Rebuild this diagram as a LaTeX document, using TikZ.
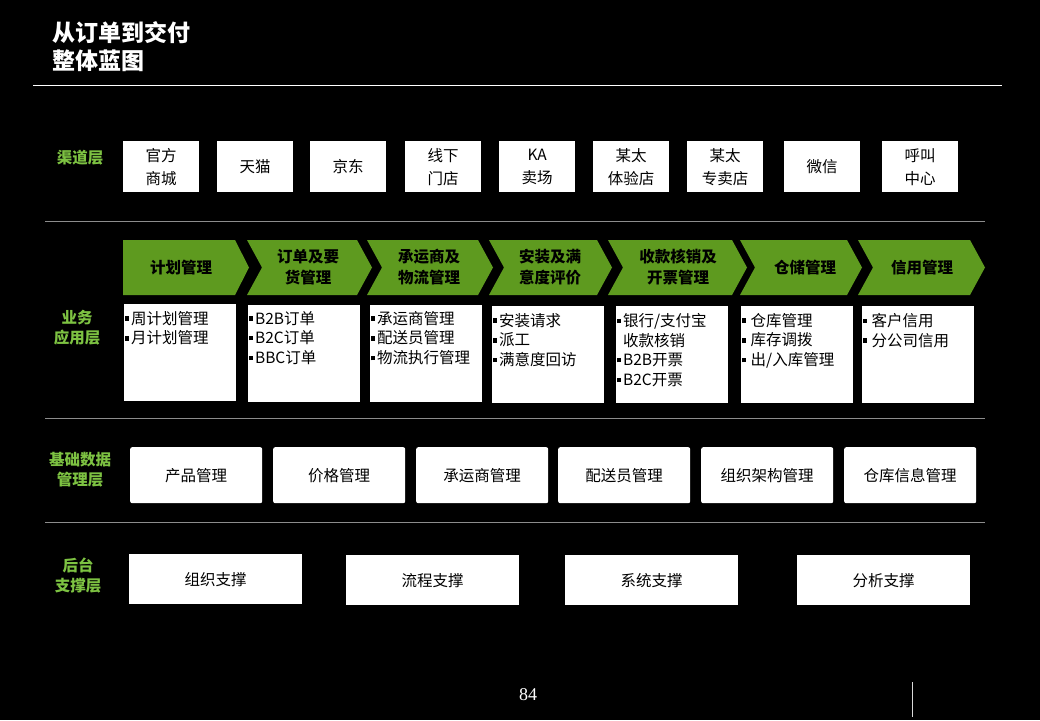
\documentclass[tikz,border=0pt]{standalone}
\usepackage{fontspec}
\setmainfont{Noto Sans CJK SC}
\newfontfamily\numfont{Liberation Serif}
\definecolor{chevgreen}{HTML}{5E9A1F}
\definecolor{labgreen}{HTML}{7DC242}
\definecolor{rulegray}{HTML}{8C8C8C}
\newcommand\bul{\raisebox{0.22em}{\rule{4.4pt}{4.4pt}}\hspace{2pt}}
\begin{document}
\begin{tikzpicture}[x=1pt,y=-1pt,
  chan/.style={fill=white, minimum width=76pt, minimum height=51pt, inner sep=0pt, align=center, anchor=north west, font=\fontsize{15.5}{23}\selectfont},
  lab/.style={text=labgreen, align=center, font=\bfseries\fontsize{15.5}{20}\selectfont},
  chevtxt/.style={align=center, text=black, font=\bfseries\fontsize{15.5}{21}\selectfont},
  itembox/.style={fill=white, minimum width=112pt, minimum height=97pt, inner sep=0pt, anchor=north west},
  itemtxt/.style={align=left, anchor=north west, inner sep=0pt, text=black, font=\fontsize{15.5}{19.7}\selectfont},
  databox/.style={fill=white, rounded corners=2pt, minimum width=132pt, minimum height=56pt, inner sep=0pt, anchor=north west, font=\fontsize{15.5}{18}\selectfont},
  backbox/.style={fill=white, minimum width=173pt, minimum height=50pt, inner sep=0pt, anchor=north west, font=\fontsize{15.5}{18}\selectfont},
  sepline/.style={draw=rulegray, line width=0.8pt},
]
\fill[black] (0,0) rectangle (1040,720);
\useasboundingbox (0,0) rectangle (1040,720);

% title
\node[anchor=north west, align=left, inner sep=0pt, text=white, font=\bfseries\fontsize{23}{28}\selectfont] (title) at (52,21) {从订单到交付\\整体蓝图};
\coordinate (tl1) at (33,85); \coordinate (tl2) at (1002,85);
\draw[white, line width=1pt] (tl1) -- (tl2);

% separator lines
\coordinate (s1a) at (45,221); \coordinate (s1b) at (985,221);
\coordinate (s2a) at (45,418); \coordinate (s2b) at (985,418);
\coordinate (s3a) at (45,522); \coordinate (s3b) at (985,522);
\draw[sepline] (s1a) -- (s1b);
\draw[sepline] (s2a) -- (s2b);
\draw[sepline] (s3a) -- (s3b);

% layer labels
\node[lab] (L1) at (80,158) {渠道层};
\node[lab] (L2) at (77,328) {业务\\应用层};
\node[lab] (L3) at (80,470) {基础数据\\管理层};
\node[lab] (L4) at (78,576) {后台\\支撑层};

% channel boxes
\node[chan] (c1) at (123,141) {官方\\商城};
\node[chan] (c2) at (217,141) {天猫};
\node[chan] (c3) at (310,141) {京东};
\node[chan] (c4) at (405,141) {线下\\门店};
\node[chan] (c5) at (499,141) {KA\\卖场};
\node[chan] (c6) at (593,141) {某太\\体验店};
\node[chan] (c7) at (687,141) {某太\\专卖店};
\node[chan] (c8) at (784,141) {微信};
\node[chan] (c9) at (882,141) {呼叫\\中心};

% chevrons
\fill[chevgreen] (123,240) -- (235,240) -- (249,267.5) -- (235,295) -- (123,295) -- cycle;
\foreach \a/\b in {247/372, 367/493, 489/612, 608/747, 740/862, 858/985}{
  \fill[chevgreen] (\a,240) -- (\b-15,240) -- (\b,267.5) -- (\b-15,295) -- (\a,295) -- (\a+15,267.5) -- cycle;
}
\node[chevtxt] (h1) at (181,267.5) {计划管理};
\node[chevtxt] (h2) at (308,267.5) {订单及要\\货管理};
\node[chevtxt] (h3) at (429,267.5) {承运商及\\物流管理};
\node[chevtxt] (h4) at (550,267.5) {安装及满\\意度评价};
\node[chevtxt] (h5) at (678,267.5) {收款核销及\\开票管理};
\node[chevtxt] (h6) at (805,267.5) {仓储管理};
\node[chevtxt] (h7) at (922,267.5) {信用管理};

% item boxes
\node[itembox] (b1) at (124,304) {};
\node[itembox] (b2) at (248,305) {};
\node[itembox] (b3) at (370,305) {};
\node[itembox] (b4) at (492,306) {};
\node[itembox] (b5) at (616,306) {};
\node[itembox] (b6) at (741,306) {};
\node[itembox] (b7) at (862,306) {};
\node[itemtxt] (t1) at ([xshift=0.5pt,yshift=-7pt]b1.north west) {\bul 周计划管理\\\bul 月计划管理};
\node[itemtxt] (t2) at ([xshift=0.5pt,yshift=-6pt]b2.north west) {\bul B2B订单\\\bul B2C订单\\\bul BBC订单};
\node[itemtxt] (t3) at ([xshift=0.5pt,yshift=-6pt]b3.north west) {\bul 承运商管理\\\bul 配送员管理\\\bul 物流执行管理};
\node[itemtxt] (t4) at ([xshift=0.5pt,yshift=-7pt]b4.north west) {\bul 安装请求\\\bul 派工\\\bul 满意度回访};
\node[itemtxt] (t5) at ([xshift=0.5pt,yshift=-7pt]b5.north west) {\bul 银行/支付宝\\\hphantom{\bul}收款核销\\\bul B2B开票\\\bul B2C开票};
\node[itemtxt] (t6) at ([xshift=0.5pt,yshift=-7pt]b6.north west) {\bul\,仓库管理\\\bul\,库存调拨\\\bul\,出/入库管理};
\node[itemtxt] (t7) at ([xshift=0.5pt,yshift=-7pt]b7.north west) {\bul\,客户信用\\\bul\,分公司信用};

% base data boxes
\node[databox] (d1) at (130,447) {产品管理};
\node[databox] (d2) at (273,447) {价格管理};
\node[databox] (d3) at (416,447) {承运商管理};
\node[databox] (d4) at (558,447) {配送员管理};
\node[databox] (d5) at (701,447) {组织架构管理};
\node[databox] (d6) at (844,447) {仓库信息管理};

% backend boxes
\node[backbox] (e1) at (129,554) {组织支撑};
\node[backbox] (e2) at (346,555) {流程支撑};
\node[backbox] (e3) at (565,555) {系统支撑};
\node[backbox] (e4) at (797,555) {分析支撑};

% footer
\node[text=white, font=\numfont\fontsize{18}{20}\selectfont, inner sep=0pt] (pg) at (528,695) {84};
\coordinate (v1) at (912,682); \coordinate (v2) at (912,717);
\draw[white!85!black, line width=0.6pt] (v1) -- (v2);
\end{tikzpicture}
\end{document}
